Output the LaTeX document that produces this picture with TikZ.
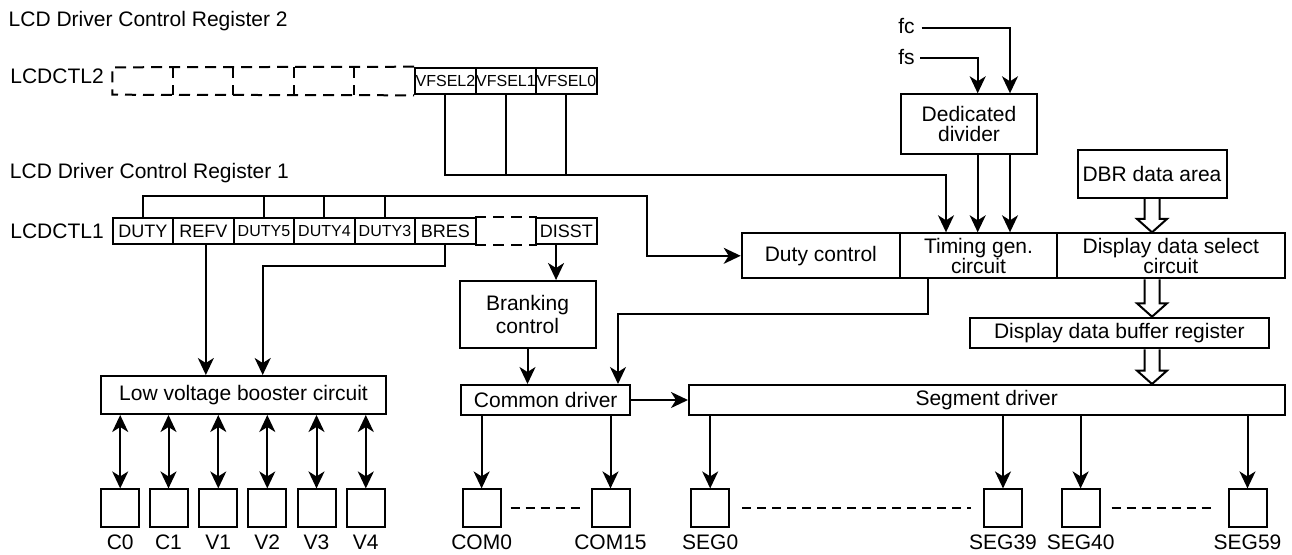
\documentclass[tikz,border=0pt]{standalone}
\usepackage{fontspec}
\setmainfont{Liberation Sans}
\usetikzlibrary{arrows.meta,calc}
\begin{document}
\begin{tikzpicture}[x=0.5pt,y=-0.5pt,
  every node/.style={inner sep=0pt},
  ln/.style={line width=1pt},
  arr/.style={line width=1pt,-{Stealth[length=8.5pt,width=8pt,inset=2.5pt]}},
  darr/.style={line width=1pt,{Stealth[length=8.5pt,width=8pt,inset=2.5pt]}-{Stealth[length=8.5pt,width=8pt,inset=2.5pt]}},
  dsh/.style={line width=1pt,dash pattern=on 5.5pt off 3.5pt},
  sdsh/.style={line width=1pt,dash pattern=on 4.5pt off 3pt},
  mainf/.style={font=\fontsize{10.5}{10}\selectfont},
  box/.style={draw,line width=1pt,align=center,mainf},
  cellbig/.style={draw,line width=1pt,minimum width=30.25pt,minimum height=13.3pt,font=\fontsize{9}{10}\selectfont},
  cellsm/.style={draw,line width=1pt,minimum width=30.25pt,minimum height=13.3pt,font=\fontsize{8}{9}\selectfont},
  cellnone/.style={minimum width=30.25pt,minimum height=13.3pt},
  sq/.style={draw,line width=1pt,minimum size=19pt},
  lab/.style={anchor=base,mainf}
]
\useasboundingbox (0,0) rectangle (1292,554);

% titles
\node[anchor=base west,mainf] (t2) at (8.3,26.7) {LCD Driver Control Register 2};
\node[anchor=base west,mainf] (l2) at (10,83.5) {LCDCTL2};
\node[anchor=base west,mainf] (t1) at (9.6,178.3) {LCD Driver Control Register 1};
\node[anchor=base west,mainf] (l1) at (10,238.3) {LCDCTL1};

% LCDCTL2 cells
\node[cellnone] (a0) at (142.95,81) {};
\node[cellnone] (a1) at (203.45,81) {};
\node[cellnone] (a2) at (263.95,81) {};
\node[cellnone] (a3) at (324.45,81) {};
\node[cellnone] (a4) at (384.95,81) {};
\node[cellsm] (v2) at (445.45,81) {VFSEL2};
\node[cellsm] (v1) at (505.95,81) {VFSEL1};
\node[cellsm] (v0) at (566.45,81) {VFSEL0};
\draw[dsh] (v2.north west) -- (a0.north west) -- (a0.south west) -- (v2.south west);
\draw[dsh] (a1.north west) -- (a1.south west);
\draw[dsh] (a2.north west) -- (a2.south west);
\draw[dsh] (a3.north west) -- (a3.south west);
\draw[dsh] (a4.north west) -- (a4.south west);

% LCDCTL1 cells
\node[cellbig] (r0) at (142.95,231) {DUTY};
\node[cellbig] (r1) at (203.45,231) {REFV};
\node[cellsm] (r2) at (263.95,231) {DUTY5};
\node[cellsm] (r3) at (324.45,231) {DUTY4};
\node[cellsm] (r4) at (384.95,231) {DUTY3};
\node[cellbig] (r5) at (445.45,231) {BRES};
\node[cellnone] (r6) at (505.95,231) {};
\node[cellbig] (r7) at (566.45,231) {DISST};
\draw[dsh] (r6.north west) -- (r6.north east);
\draw[dsh] (r6.south west) -- (r6.south east);

% blocks
\node[box,minimum width=68.3pt,minimum height=30pt] (divider) at (969,124.3) {Dedicated\\divider};
\node[box,minimum width=74.5pt,minimum height=23.85pt] (dbr) at (1152,173.85) {DBR data area};
\node[box,minimum width=79.15pt,minimum height=22.5pt] (dutyctl) at (820.85,255.8) {Duty control};
\node[box,minimum width=78.5pt,minimum height=22.5pt] (timing) at (978.5,255.8) {Timing gen.\\circuit};
\node[box,minimum width=113.75pt,minimum height=22.5pt] (dsel) at (1170.75,255.8) {Display data select\\circuit};
\node[box,minimum width=149.3pt,minimum height=15.3pt] (ddbr) at (1119.3,333) {Display data buffer register};
\node[box,minimum width=68pt,minimum height=33.5pt,font=\fontsize{10.5}{11.5}\selectfont] (brank) at (527.5,314.5) {Branking\\control};
\node[box,minimum width=142.5pt,minimum height=19pt] (lvb) at (243.5,395) {Low voltage booster circuit};
\node[box,minimum width=84.7pt,minimum height=15pt] (com) at (545.7,400) {Common driver};
\node[box,minimum width=297.75pt,minimum height=15pt] (seg) at (986.75,400) {Segment driver};

% fc / fs inputs
\node[anchor=base east,mainf] (fc) at (915,33.5) {fc};
\node[anchor=base east,mainf] (fs) at (915,64) {fs};
\coordinate (fcs) at (921.7,28.3);
\coordinate (fcx) at (1010,28.3);
\coordinate (fss) at (920,58.3);
\coordinate (fsx) at (977.7,58.3);
\draw[arr] (fcs) -- (fcx) -- (fcx |- divider.north);
\draw[arr] (fss) -- (fsx) -- (fsx |- divider.north);
\draw[arr] (fsx |- divider.south) -- (fsx |- timing.north);
\draw[arr] (fcx |- divider.south) -- (fcx |- timing.north);

% VFSEL bus
\coordinate (vbus) at (946,175);
\draw[arr] (v2.south) |- (vbus) -- (vbus |- timing.north);
\draw[ln] (v1.south) -- (v1.south |- vbus);
\draw[ln] (v0.south) -- (v0.south |- vbus);

% DUTY bus
\coordinate (dbus) at (646.7,195.7);
\draw[arr] (r0.north) |- (dbus) |- (dutyctl.west);
\draw[ln] (r2.north) -- (r2.north |- dbus);
\draw[ln] (r3.north) -- (r3.north |- dbus);
\draw[ln] (r4.north) -- (r4.north |- dbus);

% REFV, BRES -> booster
\coordinate (rfx) at ([xshift=1.2pt]r1.south);
\draw[arr] (rfx) -- (rfx |- lvb.north);
\coordinate (bturn) at (262.7,265.7);
\draw[arr] (r5.south) |- (bturn) -- (bturn |- lvb.north);

% DISST -> branking
\coordinate (dsx) at ([xshift=-5.2pt]r7.south);
\draw[arr] (dsx) -- (dsx |- brank.north);
\draw[arr] (brank.south) -- (brank.south |- com.north);

% timing -> common driver
\coordinate (tg1) at (928,313.5);
\coordinate (tg2) at (618,313.5);
\draw[arr] (tg1 |- timing.south) -- (tg1) -- (tg2) -- (tg2 |- com.north);

% common -> segment
\draw[arr] (com.east) -- (seg.west);

% hollow arrows
\draw[ln,line join=miter] let \p1=(dbr.south), \p2=(dbr.south |- dsel.north) in
  (\x1-3.75pt,\y1) -- (\x1-3.75pt,\y2+6.7pt) -- (\x1-7.5pt,\y2+6.7pt) -- (\x1,\y2) -- (\x1+7.5pt,\y2+6.7pt) -- (\x1+3.75pt,\y2+6.7pt) -- (\x1+3.75pt,\y1);
\draw[ln,line join=miter] let \p1=(dbr.south |- dsel.south), \p2=(dbr.south |- ddbr.north) in
  (\x1-3.75pt,\y1) -- (\x1-3.75pt,\y2+6.7pt) -- (\x1-7.5pt,\y2+6.7pt) -- (\x1,\y2) -- (\x1+7.5pt,\y2+6.7pt) -- (\x1+3.75pt,\y2+6.7pt) -- (\x1+3.75pt,\y1);
\draw[ln,line join=miter] let \p1=(dbr.south |- ddbr.south), \p2=(dbr.south |- seg.north) in
  (\x1-3.75pt,\y1) -- (\x1-3.75pt,\y2+6.7pt) -- (\x1-7.5pt,\y2+6.7pt) -- (\x1,\y2) -- (\x1+7.5pt,\y2+6.7pt) -- (\x1+3.75pt,\y2+6.7pt) -- (\x1+3.75pt,\y1);

% output pads
\node[sq] (c0) at (120.2,508.4) {};
\node[sq] (c1) at (168.5,508.4) {};
\node[sq] (pv1) at (218.3,508.4) {};
\node[sq] (pv2) at (267.3,508.4) {};
\node[sq] (pv3) at (316.5,508.4) {};
\node[sq] (pv4) at (365.8,508.4) {};
\node[sq] (com0) at (481.6,508.4) {};
\node[sq] (com15) at (610.5,508.4) {};
\node[sq] (seg0) at (710.2,508.4) {};
\node[sq] (seg39) at (1003,508.4) {};
\node[sq] (seg40) at (1080.6,508.4) {};
\node[sq] (seg59) at (1247.5,508.4) {};

\foreach \p in {c0,c1,pv1,pv2,pv3,pv4}{
  \draw[darr] (lvb.south -| \p.north) -- (\p.north);
}
\foreach \p in {com0,com15}{
  \draw[arr] (com.south -| \p.north) -- (\p.north);
}
\foreach \p in {seg0,seg39,seg40,seg59}{
  \draw[arr] (seg.south -| \p.north) -- (\p.north);
}

\draw[sdsh] ([xshift=4.5pt]com0.east) -- ([xshift=-4.5pt]com15.west);
\draw[sdsh] ([xshift=6pt]seg0.east) -- ([xshift=-6pt]seg39.west);
\draw[sdsh] ([xshift=5.5pt]seg40.east) -- ([xshift=-6.5pt]seg59.west);

% pad labels
\path (c0.south) ++(0,21.5) node[lab] (lc0) {C0};
\path (c1.south) ++(0,21.5) node[lab] (lc1) {C1};
\path (pv1.south) ++(0,21.5) node[lab] (lv1) {V1};
\path (pv2.south) ++(0,21.5) node[lab] (lv2) {V2};
\path (pv3.south) ++(0,21.5) node[lab] (lv3) {V3};
\path (pv4.south) ++(0,21.5) node[lab] (lv4) {V4};
\path (com0.south) ++(0,21.5) node[lab] (lcom0) {COM0};
\path (com15.south) ++(0,21.5) node[lab] (lcom15) {COM15};
\path (seg0.south) ++(0,21.5) node[lab] (lseg0) {SEG0};
\path (seg39.south) ++(0,21.5) node[lab] (lseg39) {SEG39};
\path (seg40.south) ++(0,21.5) node[lab] (lseg40) {SEG40};
\path (seg59.south) ++(0,21.5) node[lab] (lseg59) {SEG59};
\end{tikzpicture}
\end{document}
